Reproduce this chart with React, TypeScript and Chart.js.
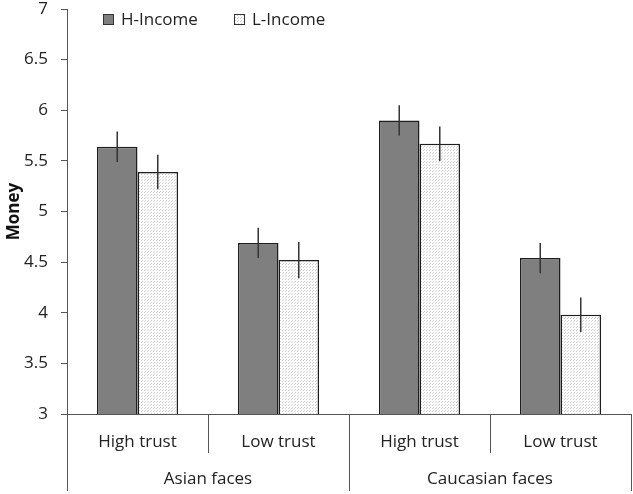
import React, { useEffect, useRef } from "react";
import { Chart, registerables } from "chart.js";

Chart.register(...registerables);

const conditions = ["High trust", "Low trust", "High trust", "Low trust"];
const faceGroups = ["Asian faces", "Caucasian faces"];
const seriesNames = ["H-Income", "L-Income"];
const hIncome = [5.64, 4.69, 5.9, 4.54];
const lIncome = [5.39, 4.52, 5.67, 3.98];
const hIncomeErr = [0.15, 0.15, 0.15, 0.15];
const lIncomeErr = [0.17, 0.18, 0.17, 0.17];
const yTicks = [3, 3.5, 4, 4.5, 5, 5.5, 6, 6.5, 7];

const FONT = "'Open Sans'";

function makePattern(): CanvasPattern | string {
  const c = document.createElement("canvas");
  c.width = 3;
  c.height = 3;
  const g = c.getContext("2d");
  if (!g) return "#f0f0f0";
  g.fillStyle = "#ffffff";
  g.fillRect(0, 0, 3, 3);
  g.fillStyle = "#cfcfcf";
  g.fillRect(0, 0, 1, 1);
  g.fillRect(1, 2, 1, 1);
  const p = g.createPattern(c, "repeat");
  return p || "#f0f0f0";
}

export default function App() {
  const ref = useRef<HTMLCanvasElement | null>(null);

  useEffect(() => {
    if (!ref.current) return;
    const pattern = makePattern();
    const errors = [hIncomeErr, lIncomeErr];

    const errorBars = {
      id: "errorBars",
      afterDatasetsDraw(chart: any) {
        const ctx = chart.ctx;
        const y = chart.scales.y;
        ctx.save();
        ctx.strokeStyle = "#333";
        ctx.lineWidth = 1.5;
        chart.data.datasets.forEach((ds: any, i: number) => {
          const meta = chart.getDatasetMeta(i);
          meta.data.forEach((bar: any, j: number) => {
            const v = ds.data[j];
            const e = errors[i][j];
            ctx.beginPath();
            ctx.moveTo(bar.x, y.getPixelForValue(v + e));
            ctx.lineTo(bar.x, y.getPixelForValue(v - e));
            ctx.stroke();
          });
        });
        ctx.restore();
      },
    };

    const separators = {
      id: "separators",
      afterDraw(chart: any) {
        const ctx = chart.ctx;
        const x = chart.scales.x;
        const x2 = chart.scales.x2;
        const top = chart.chartArea.bottom;
        ctx.save();
        ctx.strokeStyle = "#555";
        ctx.lineWidth = 1;
        const n = conditions.length;
        const w = (x.right - x.left) / n;
        for (let i = 0; i <= n; i++) {
          const px = Math.round(x.left + i * w) + 0.5;
          const outer = i % 2 === 0;
          ctx.beginPath();
          ctx.moveTo(px, top);
          ctx.lineTo(px, outer ? x2.bottom : x.bottom);
          ctx.stroke();
        }
        // legend
        const items = chart.data.datasets;
        const lx = chart.chartArea.left + 36;
        const ly = 14;
        const gap = 131;
        ctx.font = `17px ${FONT}`;
        ctx.textBaseline = "middle";
        items.forEach((ds: any, i: number) => {
          const bx = lx + i * gap;
          ctx.fillStyle = ds.backgroundColor;
          ctx.fillRect(bx, ly, 11, 11);
          ctx.strokeStyle = "#333";
          ctx.lineWidth = 1;
          ctx.strokeRect(bx + 0.5, ly + 0.5, 10, 10);
          ctx.fillStyle = "#222";
          ctx.fillText(ds.label, bx + 18, ly + 6);
        });
        ctx.restore();
      },
    };

    const chart = new Chart(ref.current, {
      type: "bar",
      data: {
        labels: conditions,
        datasets: [
          {
            label: seriesNames[0],
            data: hIncome,
            backgroundColor: "#7f7f7f",
            borderColor: "#1e1e1e",
            borderWidth: 1.5,
            borderSkipped: false,
          },
          {
            label: seriesNames[1],
            data: lIncome,
            backgroundColor: pattern as any,
            borderColor: "#1e1e1e",
            borderWidth: 1.5,
            borderSkipped: false,
          },
        ],
      },
      options: {
        animation: false,
        responsive: false,
        maintainAspectRatio: false,
        layout: { padding: { top: 9, right: 2, bottom: 3, left: 0 } },
        datasets: {
          bar: { categoryPercentage: 0.575, barPercentage: 1 },
        },
        plugins: {
          legend: { display: false },
          tooltip: { enabled: false },
        },
        scales: {
          y: {
            min: 3,
            max: 7,
            afterBuildTicks: (s: any) => {
              s.ticks = yTicks.map((v) => ({ value: v }));
            },
            afterFit: (s: any) => {
              s.width = 67;
              s.paddingTop = 0;
              s.paddingBottom = 0;
            },
            ticks: {
              padding: 13,
              color: "#222",
              font: { family: FONT, size: 17 },
              callback: (v: any) => String(v),
            },
            grid: {
              drawOnChartArea: false,
              drawTicks: true,
              tickLength: 6,
              color: "#555",
            },
            border: { display: true, color: "#555", width: 1 },
            title: {
              display: true,
              text: "Money",
              color: "#111",
              font: { family: FONT, size: 17, weight: "bold" },
              padding: 4,
            },
          },
          x: {
            position: "bottom",
            afterFit: (s: any) => {
              s.height = 39;
            },
            ticks: {
              padding: 10,
              color: "#222",
              font: { family: FONT, size: 17 },
              maxRotation: 0,
            },
            grid: { display: false },
            border: { display: true, color: "#555", width: 1 },
          },
          x2: {
            type: "category",
            position: "bottom",
            labels: faceGroups,
            offset: true,
            afterFit: (s: any) => {
              s.height = 38;
            },
            ticks: {
              padding: 8,
              color: "#222",
              font: { family: FONT, size: 17 },
              maxRotation: 0,
            },
            grid: { display: false },
            border: { display: false },
          },
        },
      },
      plugins: [errorBars, separators],
    } as any);

    return () => chart.destroy();
  }, []);

  return (
    <div style={{ position: "fixed", left: 0, top: 0, width: 633, height: 494, background: "#fff" }}>
      <canvas ref={ref} width={633} height={494} style={{ display: "block" }} />
    </div>
  );
}
